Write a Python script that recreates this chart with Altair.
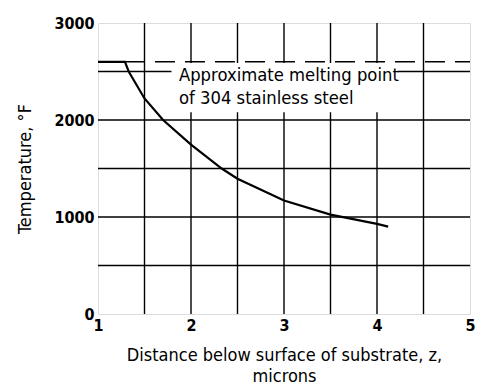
import altair as alt
import pandas as pd

# Curve: distance below surface (microns) vs temperature (deg F)
dist = [1.0, 1.29, 1.33, 1.5, 1.7, 2.0, 2.33, 2.5, 3.0, 3.5, 4.0, 4.12]
temp = [2600, 2600, 2500, 2222, 2000, 1747, 1500, 1395, 1170, 1025, 929, 901]

# Melting point reference line
melt_temp = 2600
melt_x = [1.29, 5.0]

# Grid values
x_grid = [1.5, 2.0, 2.5, 3.0, 3.5, 4.0, 4.5]
y_grid = [500, 1000, 1500, 2000, 2500]
x_labels = [1, 2, 3, 4, 5]
y_labels = [0, 1000, 2000, 3000]

# Annotation
note_lines = ["Approximate melting point", "of 304 stainless steel"]
note_x = [1.87, 1.87]
note_y = [2397, 2170]
box = {"x": [1.79], "x2": [4.22], "y": [2080], "y2": [2588]}

FONT = "DejaVu Sans Condensed"

xs = alt.Scale(domain=[1, 5], nice=False)
ys = alt.Scale(domain=[0, 3000], nice=False)

curve_df = pd.DataFrame({"x": dist, "y": temp})
melt_df = pd.DataFrame({"x": melt_x, "y": [melt_temp] * len(melt_x)})
xg_df = pd.DataFrame({"x": x_grid})
yg_df = pd.DataFrame({"y": y_grid})
note_df = pd.DataFrame({"x": note_x, "y": note_y, "t": note_lines})
box_df = pd.DataFrame(box)

xaxis = alt.Axis(values=x_labels, grid=False, ticks=False, domain=False,
                 labelFont=FONT, labelFontSize=16, labelFontWeight="bold",
                 labelColor="black", labelPadding=3, labelFlush=False, format="d",
                 title=["Distance below surface of substrate, z,", "microns"],
                 titleFont=FONT, titleFontSize=18, titleFontWeight="normal",
                 titleColor="black", titlePadding=13, titleLineHeight=21)
yaxis = alt.Axis(values=y_labels, grid=False, ticks=False, domain=False,
                 labelFont=FONT, labelFontSize=16, labelFontWeight="bold",
                 labelColor="black", labelPadding=4, format="d",
                 title="Temperature, °F", titleFont=FONT, titleFontSize=18,
                 titleFontWeight="normal", titleColor="black", titlePadding=19)

vgrid = alt.Chart(xg_df).mark_rule(color="black", strokeWidth=1.4).encode(
    x=alt.X("x:Q", scale=xs, axis=xaxis))
hgrid = alt.Chart(yg_df).mark_rule(color="black", strokeWidth=1.4).encode(
    y=alt.Y("y:Q", scale=ys, axis=yaxis))
boxm = alt.Chart(box_df).mark_rect(color="white", opacity=1).encode(
    x=alt.X("x:Q", scale=xs), x2="x2:Q", y=alt.Y("y:Q", scale=ys), y2="y2:Q")
melt = alt.Chart(melt_df).mark_line(color="black", strokeWidth=1.5,
                                    strokeDash=[20, 10]).encode(
    x=alt.X("x:Q", scale=xs), y=alt.Y("y:Q", scale=ys))
curve = alt.Chart(curve_df).mark_line(color="black", strokeWidth=2.2).encode(
    x=alt.X("x:Q", scale=xs), y=alt.Y("y:Q", scale=ys))
note = alt.Chart(note_df).mark_text(font=FONT, fontSize=18.3, align="left",
                                    baseline="alphabetic", color="black").encode(
    x=alt.X("x:Q", scale=xs), y=alt.Y("y:Q", scale=ys), text="t:N")

chart = alt.layer(vgrid, hgrid, boxm, melt, curve, note).properties(
    width=372, height=291,
    autosize=alt.AutoSizeParams(type="none"),
    padding={"left": 90, "top": 15, "right": 6, "bottom": 73},
).configure_view(stroke="black", strokeWidth=2).configure(background="white")

chart.save("out.html", embed_options={"renderer": "svg", "actions": False})
